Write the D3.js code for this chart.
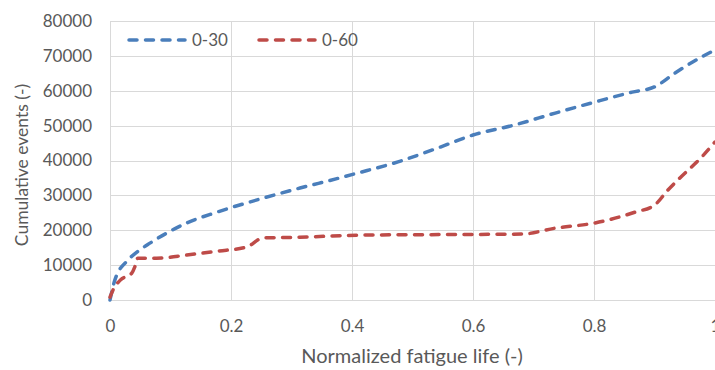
<!DOCTYPE html>
<html>
<head>
<meta charset="utf-8">
<script src="https://cdn.jsdelivr.net/npm/d3@7"></script>
<style>
  body { margin: 0; background: #fff; }
  text { font-family: Lato, "Open Sans", sans-serif; fill: #595959; }
</style>
</head>
<body>
<div id="vis"></div>
<script>
// data
let series = ['0-30', '0-60'];
let colors = ['#4a7ebb', '#be4b48'];

let life30 = [0, 0.008, 0.03, 0.045, 0.066, 0.094, 0.127, 0.177, 0.253, 0.314, 0.375, 0.405, 0.476, 0.542, 0.6, 0.669, 0.736, 0.802, 0.863, 0.9, 0.934, 0.978, 1.0];
let events30 = [0, 5700, 11500, 13800, 16300, 19200, 22100, 25200, 29200, 32100, 34800, 36200, 39600, 43600, 47300, 50200, 53600, 56800, 59600, 61100, 65100, 69700, 71700];

let life60 = [0, 0.005, 0.017, 0.036, 0.041, 0.046, 0.077, 0.127, 0.177, 0.226, 0.253, 0.314, 0.413, 0.6, 0.681, 0.736, 0.802, 0.868, 0.9, 0.922, 0.942, 0.978, 1.0];
let events60 = [800, 2900, 5700, 7700, 9500, 12000, 12000, 12900, 14000, 15200, 17800, 18000, 18600, 18800, 18900, 20600, 22100, 25200, 27200, 31500, 35000, 41000, 45300];

let xTicks = [0, 0.2, 0.4, 0.6, 0.8, 1];
let yTicks = [0, 10000, 20000, 30000, 40000, 50000, 60000, 70000, 80000];

let width = 715, height = 370;
let margin = { top: 21, left: 110, right: 0, bottom: 70 };

let svg = d3.select('#vis')
  .append('svg')
    .attr('width', width)
    .attr('height', height)
    .style('display', 'block');

let x = d3.scaleLinear().domain([0, 1]).range([margin.left, width - margin.right]);
let y = d3.scaleLinear().domain([0, 80000]).range([height - margin.bottom, margin.top]);

// grid
svg.append('g')
  .selectAll('line')
  .data(yTicks)
  .join('line')
    .attr('x1', x(0))
    .attr('x2', x(1))
    .attr('y1', d => Math.round(y(d)) + 0.5)
    .attr('y2', d => Math.round(y(d)) + 0.5)
    .attr('stroke', '#d9d9d9')
    .attr('stroke-width', 1);

svg.append('g')
  .selectAll('line')
  .data(xTicks)
  .join('line')
    .attr('x1', d => Math.round(x(d)) + 0.5)
    .attr('x2', d => Math.round(x(d)) + 0.5)
    .attr('y1', y(0))
    .attr('y2', y(80000))
    .attr('stroke', '#d9d9d9')
    .attr('stroke-width', 1);

// axes (labels only, no domain / ticks)
let xAxis = svg.append('g')
  .attr('transform', `translate(0,${y(0)})`)
  .call(d3.axisBottom(x).tickValues(xTicks).tickSize(0).tickPadding(20).tickFormat(d => d));
xAxis.select('.domain').remove();
xAxis.selectAll('text').style('font-size', '17px').attr('fill', '#595959');

let yAxis = svg.append('g')
  .attr('transform', `translate(${x(0)},0)`)
  .call(d3.axisLeft(y).tickValues(yTicks).tickSize(0).tickPadding(18).tickFormat(d => d));
yAxis.select('.domain').remove();
yAxis.selectAll('text').style('font-size', '17px').attr('fill', '#595959');

// axis titles
svg.append('text')
  .attr('x', 412)
  .attr('y', 363)
  .attr('text-anchor', 'middle')
  .style('font-size', '20px')
  .text('Normalized fatigue life (-)');

svg.append('text')
  .attr('transform', 'translate(28,165) rotate(-90)')
  .attr('text-anchor', 'middle')
  .style('font-size', '17.5px')
  .text('Cumulative events (-)');

// lines
let line = d3.line()
  .x(d => x(d[0]))
  .y(d => y(d[1]))
  .curve(d3.curveMonotoneX);

let data = [d3.zip(life30, events30), d3.zip(life60, events60)];

svg.append('g')
  .selectAll('path')
  .data(data)
  .join('path')
    .attr('d', line)
    .attr('fill', 'none')
    .attr('stroke', (d, i) => colors[i])
    .attr('stroke-width', 3.5)
    .attr('stroke-linecap', 'round')
    .attr('stroke-dasharray', '8,8.5');

// legend
let legendX = [127, 257];
let legend = svg.append('g')
  .selectAll('g')
  .data(series)
  .join('g')
    .attr('transform', (d, i) => `translate(${legendX[i]},40)`);

legend.append('line')
  .attr('x1', 2)
  .attr('x2', 58)
  .attr('stroke', (d, i) => colors[i])
  .attr('stroke-width', 3.5)
  .attr('stroke-linecap', 'round')
  .attr('stroke-dasharray', '8,8.5');

legend.append('text')
  .attr('x', 65)
  .attr('y', 6)
  .style('font-size', '17px')
  .text(d => d);
</script>
</body>
</html>
